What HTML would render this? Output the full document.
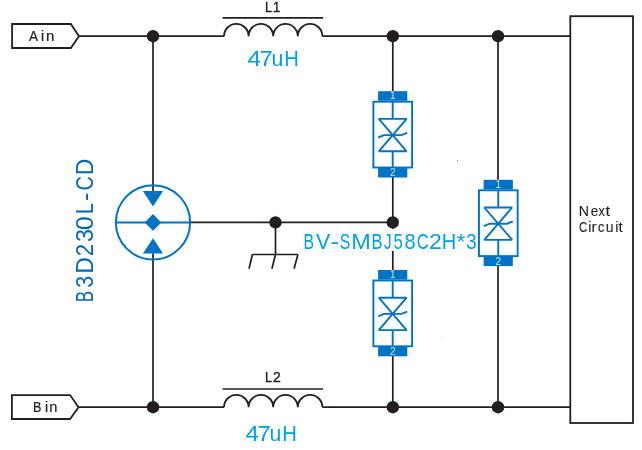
<!DOCTYPE html>
<html><head><meta charset="utf-8">
<style>
html,body{margin:0;padding:0;background:#fff;}
body{width:642px;height:450px;overflow:hidden;}
svg{display:block;will-change:transform;}
text{font-family:"Liberation Sans",sans-serif;}
</style></head>
<body>
<svg width="642" height="450" viewBox="0 0 642 450">
<defs>
<g id="tvs">
  <rect x="-14.6" y="0" width="29.2" height="9.6" fill="#0073c5"/>
  <rect x="-19.3" y="10.5" width="38.7" height="65.8" fill="none" stroke="#0073c5" stroke-width="1.9"/>
  <rect x="-14.6" y="76.3" width="29.2" height="10" fill="#0073c5"/>
  <path d="M0 10.5V27.7M0 60.1V76.3" stroke="#0073c5" stroke-width="1.9" fill="none"/>
  <path d="M-13.9 27.7H13.9L-13.9 60.1H13.9Z" stroke="#0073c5" stroke-width="1.9" fill="none" stroke-linejoin="bevel"/>
  <path d="M-14.4 46.3L-8.7 43.9H8.8L14.5 41.7" stroke="#0073c5" stroke-width="1.9" fill="none"/>
  <text x="0" y="8.1" font-size="10" fill="#cfe4f5" text-anchor="middle">1</text>
  <text x="0" y="85.1" font-size="10" fill="#cfe4f5" text-anchor="middle">2</text>
</g>
</defs>

<!-- wires -->
<g stroke="#231f20" stroke-width="1.7" fill="none">
  <path d="M79 36.2H224M322.4 36.2H570.3"/>
  <path d="M78.5 407.2H224M322.4 407.2H570.3"/>
  <path d="M153 36.2V191.1M153 253.3V407.2"/>
  <path d="M190 222.4H393"/>
  <path d="M392.8 36.2V91.2M392.8 177V270M392.8 356V407.2"/>
  <path d="M498 36.2V179.8M498 265.5V407.2"/>
  <!-- ground -->
  <path d="M275.5 222.4V254.5M252.4 254.5H297.9M252.4 254.5L249 268.8M275.5 254.5L271.9 268.8M297.9 254.5L294.1 268.8"/>
  <!-- inductors -->
  <path d="M222.6 17.8H323.1"/>
  <path d="M224 36.2A12.3 12.3 0 0 1 248.6 36.2A12.3 12.3 0 0 1 273.2 36.2A12.3 12.3 0 0 1 297.8 36.2A12.3 12.3 0 0 1 322.4 36.2" stroke-width="1.8"/>
  <path d="M222.6 389H323.1"/>
  <path d="M224 407.2A12.3 12.3 0 0 1 248.6 407.2A12.3 12.3 0 0 1 273.2 407.2A12.3 12.3 0 0 1 297.8 407.2A12.3 12.3 0 0 1 322.4 407.2" stroke-width="1.8"/>
  <!-- labels -->
  <path d="M12.1 24H70.8L79 36.2L70.8 48H12.1Z" stroke-width="1.8"/>
  <path d="M11.9 395.1H70.1L78.5 407.2L70.1 419H11.9Z" stroke-width="1.8"/>
  <!-- next circuit box -->
  <rect x="570.3" y="16.2" width="62.7" height="406.8" stroke-width="1.8"/>
</g>
<g fill="#231f20">
  <circle cx="153" cy="36.2" r="6.2"/>
  <circle cx="392.8" cy="36.2" r="6.2"/>
  <circle cx="498" cy="36.2" r="6.2"/>
  <circle cx="153" cy="407.2" r="6.2"/>
  <circle cx="392.8" cy="407.2" r="6.2"/>
  <circle cx="498" cy="407.2" r="6.2"/>
  <circle cx="275.5" cy="222.4" r="6.2"/>
  <circle cx="392.8" cy="222.4" r="6.2"/>
</g>

<!-- gas discharge tube -->
<g>
  <circle cx="153" cy="222.4" r="37.1" fill="none" stroke="#0073c5" stroke-width="2"/>
  <path d="M115.9 222.4H190.1" stroke="#0073c5" stroke-width="2"/>
  <path d="M142.9 191.1H163.1L153 206.6Z" fill="#0073c5"/>
  <path d="M142.9 253.5H163.1L153 238.3Z" fill="#0073c5"/>
  <path d="M153 214.1L161.3 222.4L153 230.8L144.7 222.4Z" fill="#0073c5"/>
</g>

<!-- TVS diodes -->
<use href="#tvs" x="392.7" y="91.2"/>
<use href="#tvs" x="392.7" y="270"/>
<use href="#tvs" x="498.25" y="179.8"/>

<rect x="457" y="160" width="1" height="1" fill="#4a9fd6"/>
<rect x="441" y="337" width="1" height="1" fill="#bcd7e9"/>
<!-- texts -->
<rect x="300" y="229" width="176" height="22" fill="#fff"/>
<text transform="translate(28.97 40.70) scale(0.984 1)" font-size="13.80" fill="#231f20" stroke="#231f20" stroke-width="0.20">A</text>
<text transform="translate(41.00 40.70) scale(1.000 1)" font-size="13.80" fill="#231f20" stroke="#231f20" stroke-width="0.20">i</text>
<text transform="translate(45.90 40.70) scale(1.092 1)" font-size="13.80" fill="#231f20" stroke="#231f20" stroke-width="0.20">n</text>
<text transform="translate(32.97 411.70) scale(0.899 1)" font-size="14.00" fill="#231f20" stroke="#231f20" stroke-width="0.20">B</text>
<text transform="translate(44.90 411.70) scale(1.000 1)" font-size="14.00" fill="#231f20" stroke="#231f20" stroke-width="0.20">i</text>
<text transform="translate(49.23 411.70) scale(1.042 1)" font-size="14.00" fill="#231f20" stroke="#231f20" stroke-width="0.20">n</text>
<text transform="translate(578.84 215.90) scale(0.989 1)" font-size="14.30" fill="#231f20" stroke="#231f20" stroke-width="0.10">N</text>
<text transform="translate(590.72 215.90) scale(0.954 1)" font-size="14.30" fill="#231f20" stroke="#231f20" stroke-width="0.10">e</text>
<text transform="translate(598.46 215.90) scale(0.878 1)" font-size="14.30" fill="#231f20" stroke="#231f20" stroke-width="0.10">x</text>
<text transform="translate(605.55 215.90) scale(1.177 1)" font-size="14.30" fill="#231f20" stroke="#231f20" stroke-width="0.10">t</text>
<text transform="translate(579.11 232.30) scale(0.806 1)" font-size="14.30" fill="#231f20" stroke="#231f20" stroke-width="0.10">C</text>
<text transform="translate(588.16 232.30) scale(1.000 1)" font-size="14.30" fill="#231f20" stroke="#231f20" stroke-width="0.10">i</text>
<text transform="translate(591.59 232.30) scale(1.063 1)" font-size="14.30" fill="#231f20" stroke="#231f20" stroke-width="0.10">r</text>
<text transform="translate(598.06 232.30) scale(0.892 1)" font-size="14.30" fill="#231f20" stroke="#231f20" stroke-width="0.10">c</text>
<text transform="translate(605.78 232.30) scale(0.988 1)" font-size="14.30" fill="#231f20" stroke="#231f20" stroke-width="0.10">u</text>
<text transform="translate(615.16 232.30) scale(1.000 1)" font-size="14.30" fill="#231f20" stroke="#231f20" stroke-width="0.10">i</text>
<text transform="translate(618.47 232.30) scale(1.068 1)" font-size="14.30" fill="#231f20" stroke="#231f20" stroke-width="0.10">t</text>
<text transform="translate(265.06 11.70) scale(0.920 1)" font-size="13.80" fill="#231f20" stroke="#231f20" stroke-width="0.35">L</text>
<text transform="translate(272.87 11.70) scale(1.000 1)" font-size="13.80" fill="#231f20" stroke="#231f20" stroke-width="0.35">1</text>
<text transform="translate(265.06 381.90) scale(0.920 1)" font-size="13.80" fill="#231f20" stroke="#231f20" stroke-width="0.35">L</text>
<text transform="translate(273.09 381.90) scale(1.018 1)" font-size="13.80" fill="#231f20" stroke="#231f20" stroke-width="0.35">2</text>
<text transform="translate(247.54 65.90) scale(1.116 1)" font-size="21.70" fill="#00a0e9">4</text>
<text transform="translate(259.47 65.90) scale(1.105 1)" font-size="21.70" fill="#00a0e9">7</text>
<text transform="translate(271.52 65.90) scale(0.976 1)" font-size="21.70" fill="#00a0e9">u</text>
<text transform="translate(284.34 65.90) scale(0.932 1)" font-size="21.70" fill="#00a0e9">H</text>
<text transform="translate(245.54 440.90) scale(1.116 1)" font-size="21.70" fill="#00a0e9">4</text>
<text transform="translate(257.47 440.90) scale(1.105 1)" font-size="21.70" fill="#00a0e9">7</text>
<text transform="translate(269.52 440.90) scale(0.976 1)" font-size="21.70" fill="#00a0e9">u</text>
<text transform="translate(282.34 440.90) scale(0.932 1)" font-size="21.70" fill="#00a0e9">H</text>
<text transform="translate(303.51 248.90) scale(0.724 1)" font-size="21.80" fill="#00a0e9">B</text>
<text transform="translate(315.91 248.90) scale(0.976 1)" font-size="21.80" fill="#00a0e9">V</text>
<text transform="translate(330.18 248.90) scale(1.259 1)" font-size="21.80" fill="#00a0e9">-</text>
<text transform="translate(339.78 248.90) scale(0.725 1)" font-size="21.80" fill="#00a0e9">S</text>
<text transform="translate(351.17 248.90) scale(1.077 1)" font-size="21.80" fill="#00a0e9">M</text>
<text transform="translate(371.44 248.90) scale(0.758 1)" font-size="21.80" fill="#00a0e9">B</text>
<text transform="translate(383.98 248.90) scale(0.700 1)" font-size="21.80" fill="#00a0e9">J</text>
<text transform="translate(393.52 248.90) scale(0.774 1)" font-size="21.80" fill="#00a0e9">5</text>
<text transform="translate(404.43 248.90) scale(0.919 1)" font-size="21.80" fill="#00a0e9">8</text>
<text transform="translate(416.66 248.90) scale(0.761 1)" font-size="21.80" fill="#00a0e9">C</text>
<text transform="translate(428.94 248.90) scale(1.057 1)" font-size="21.80" fill="#00a0e9">2</text>
<text transform="translate(441.66 248.90) scale(0.920 1)" font-size="21.80" fill="#00a0e9">H</text>
<text transform="translate(456.70 248.90) scale(1.000 1)" font-size="21.80" fill="#00a0e9">*</text>
<text transform="translate(465.97 248.90) scale(0.880 1)" font-size="21.80" fill="#00a0e9">3</text>
<text transform="translate(92.50 0) rotate(-90) translate(-302.14 0) scale(0.739 1)" font-size="23.00" fill="#0068b8">B</text>
<text transform="translate(92.50 0) rotate(-90) translate(-287.81 0) scale(0.926 1)" font-size="23.00" fill="#0068b8">3</text>
<text transform="translate(92.50 0) rotate(-90) translate(-273.44 0) scale(0.976 1)" font-size="23.00" fill="#0068b8">D</text>
<text transform="translate(92.50 0) rotate(-90) translate(-256.13 0) scale(0.973 1)" font-size="23.00" fill="#0068b8">2</text>
<text transform="translate(92.50 0) rotate(-90) translate(-241.99 0) scale(1.018 1)" font-size="23.00" fill="#0068b8">3</text>
<text transform="translate(92.50 0) rotate(-90) translate(-230.19 0) scale(1.101 1)" font-size="23.00" fill="#0068b8">0</text>
<text transform="translate(92.50 0) rotate(-90) translate(-214.00 0) scale(0.848 1)" font-size="23.00" fill="#0068b8">L</text>
<text transform="translate(92.50 0) rotate(-90) translate(-200.91 0) scale(1.086 1)" font-size="23.00" fill="#0068b8">-</text>
<text transform="translate(92.50 0) rotate(-90) translate(-190.61 0) scale(0.865 1)" font-size="23.00" fill="#0068b8">C</text>
<text transform="translate(92.50 0) rotate(-90) translate(-175.18 0) scale(0.998 1)" font-size="23.00" fill="#0068b8">D</text>
</svg>
</body></html>
